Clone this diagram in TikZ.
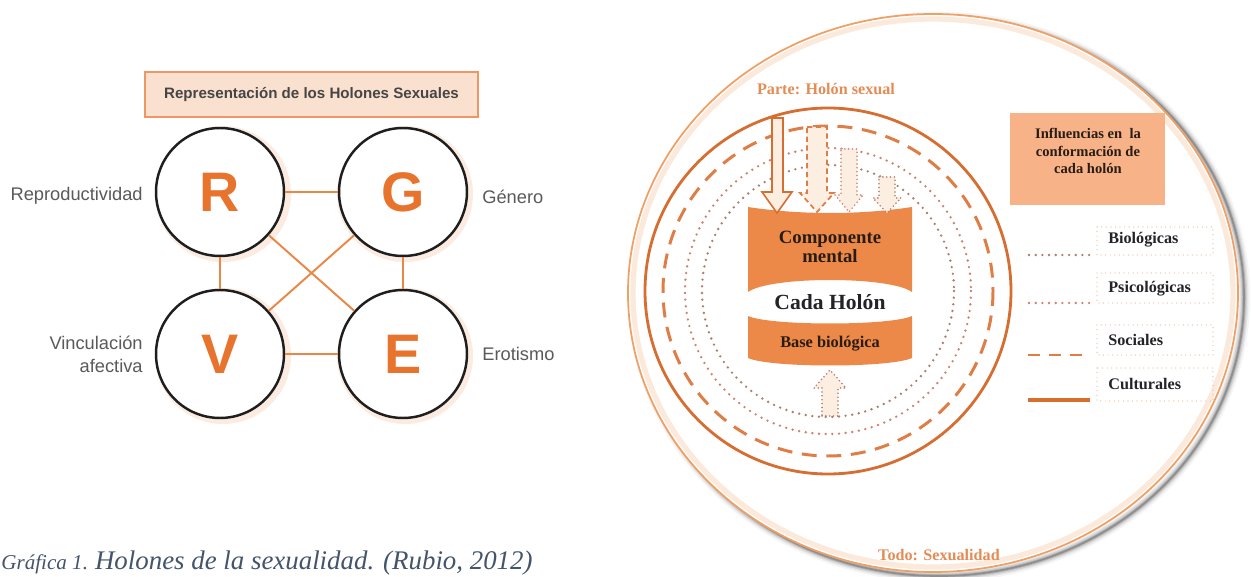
\documentclass[tikz,border=0pt]{standalone}
\usepackage{fontspec}
\setmainfont{Liberation Serif}
\newfontfamily\arialf{Liberation Sans}
\definecolor{orR}{RGB}{232,115,45}
\definecolor{lineOr}{RGB}{234,135,70}
\definecolor{circDark}{RGB}{30,30,30}
\definecolor{labGray}{RGB}{90,90,90}
\definecolor{titleTxt}{RGB}{70,70,70}
\definecolor{titleFill}{RGB}{250,224,206}
\definecolor{titleEdge}{RGB}{238,150,100}
\definecolor{capCol}{RGB}{68,84,106}
\definecolor{cylOr}{RGB}{237,137,72}
\definecolor{cultOr}{RGB}{214,110,50}
\definecolor{socOr}{RGB}{222,125,70}
\definecolor{psiCol}{RGB}{205,130,110}
\definecolor{bioCol}{RGB}{175,125,105}
\definecolor{legFill}{RGB}{247,178,136}
\definecolor{legEdge}{RGB}{228,185,155}
\definecolor{bigOr}{RGB}{240,160,100}
\definecolor{textOr}{RGB}{228,140,85}
\definecolor{arrFill}{RGB}{253,238,226}
\definecolor{darkTxt}{RGB}{40,28,20}
\definecolor{legTxt}{RGB}{35,35,40}
\tikzset{
  holon/.style={circle, draw=circDark, line width=1.4pt, fill=white, minimum size=2.56cm, inner sep=0pt,
    font=\arialf\bfseries\fontsize{31.7}{32}\selectfont, text=orR},
  conn/.style={draw=lineOr, line width=1.1pt},
  lab/.style={font=\arialf\fontsize{10.4}{13}\selectfont, text=labGray, inner sep=0pt},
  titlebox/.style={draw=titleEdge, line width=1.2pt, fill=titleFill, minimum width=6.66cm, minimum height=0.9cm,
    font=\arialf\bfseries\fontsize{8.6}{10}\selectfont, text=titleTxt},
  glow/.style={fill=lineOr, opacity=0.16},
  orlabel/.style={font=\bfseries\fontsize{9.2}{11}\selectfont, text=textOr, inner sep=0pt},
  cyltxt/.style={font=\bfseries\fontsize{10.7}{12}\selectfont, text=darkTxt, align=center, inner sep=0pt},
  legtxt/.style={font=\bfseries\fontsize{9.2}{11}\selectfont, text=legTxt, inner sep=0pt, anchor=west},
  legbox/.style={draw=legEdge, line width=0.7pt, line cap=round, dash pattern=on 0pt off 2.6pt},
  dotbio/.style={draw=bioCol, line width=1.5pt, line cap=round, dash pattern=on 0pt off 3.8pt},
  dotpsi/.style={draw=psiCol, line width=1.5pt, line cap=round, dash pattern=on 0pt off 3.8pt},
  dashsoc/.style={draw=socOr, line width=1.7pt, dash pattern=on 8.5pt off 5.5pt},
  solcult/.style={draw=cultOr, line width=1.6pt},
  arrSolid/.style={draw=cultOr, line width=0.9pt, fill=arrFill},
  arrDash/.style={draw=socOr, line width=1pt, fill=arrFill, dash pattern=on 3pt off 2pt},
  arrPsi/.style={draw=psiCol, line width=1pt, fill=arrFill, line cap=round, dash pattern=on 0pt off 2.2pt},
  arrBio/.style={draw=bioCol, line width=1pt, fill=arrFill, line cap=round, dash pattern=on 0pt off 2.2pt},
}
\begin{document}
\begin{tikzpicture}[x=0.02cm,y=-0.02cm]
\fill[white] (0,0) rectangle (1251,577);
\useasboundingbox (0,0) rectangle (1251,577);

% ---------------- left diagram ----------------
\node[titlebox] (title) at (311.5,94.5) {Representación de los Holones Sexuales};

\fill[glow] (223,194) circle (68);
\fill[glow] (405,194) circle (68);
\fill[glow] (223,356) circle (68);
\fill[glow] (405,356) circle (68);

\node[holon] (R) at (220,192) {R};
\node[holon] (G) at (403,192) {G};
\node[holon] (V) at (220,354) {V};
\node[holon] (E) at (403,354) {E};

\draw[conn] (R) -- (G);
\draw[conn] (V) -- (E);
\draw[conn] (R) -- (V);
\draw[conn] (G) -- (E);
\draw[conn] (R) -- (E);
\draw[conn] (G) -- (V);

\node[lab, anchor=east] (lR) at (143,196) {Reproductividad};
\node[lab, anchor=west] (lG) at (482,197) {Género};
\node[lab, anchor=east, align=right] (lV) at (143,354) {Vinculación\\afectiva};
\node[lab, anchor=west] (lE) at (482,354) {Erotismo};

\node[anchor=base west, inner sep=0pt, text=capCol] (caption) at (1,569)
  {{\fontsize{12}{14}\selectfont\itshape Gráfica 1. }{\fontsize{15.3}{18}\selectfont\itshape Holones de la sexualidad. (Rubio, 2012)}};

% ---------------- right diagram ----------------
\foreach \w/\o in {7/0.04,5/0.06,3.5/0.09,2/0.14,1/0.2}
  \draw[black, opacity=\o, line width=\w pt] (939,297) ellipse (305 and 279);
\filldraw[fill=white, draw=bigOr, line width=1pt] (933,293) ellipse (305 and 279);
\draw[bigOr, opacity=0.22, line width=3pt] (933,293) ellipse (300 and 274);

\draw[solcult] (828,291) circle (183);
\draw[dashsoc] (828,291) circle (165);
\draw[dotpsi] (828,291) circle (143);
\draw[dotbio] (828,291) circle (126);

% cylinder
\fill[cylOr] (748,207) .. controls (800,215) and (860,215) .. (912,207)
  -- (912,292) .. controls (890,276) and (770,276) .. (748,292) -- cycle;
\fill[cylOr] (748,316) .. controls (770,326) and (890,326) .. (912,316)
  -- (912,358) .. controls (890,368) and (770,368) .. (748,358) -- cycle;

\node[cyltxt] (comp) at (830,247) {Componente\\[-1pt]mental};
\node[cyltxt, font=\bfseries\fontsize{12.3}{14}\selectfont, text=legTxt] (cada) at (830,302) {Cada Holón};
\node[cyltxt, font=\bfseries\fontsize{9.3}{11}\selectfont] (base) at (830,344) {Base biológica};

% arrows
\filldraw[arrSolid] (772,118) -- (783,118) -- (783,192) -- (792,192) -- (777,213) -- (762,192) -- (772,192) -- cycle;
\filldraw[arrDash] (807,127) -- (827,127) -- (827,193) -- (834,193) -- (817,212) -- (800,193) -- (807,193) -- cycle;
\filldraw[arrPsi] (841,149) -- (857,149) -- (857,195) -- (863,195) -- (849,212) -- (835,195) -- (841,195) -- cycle;
\filldraw[arrBio] (879,177) -- (895,177) -- (895,198) -- (901,198) -- (887,213) -- (873,198) -- (879,198) -- cycle;
\filldraw[arrBio] (822,416) -- (838,416) -- (838,388) -- (846,388) -- (830,370) -- (814,388) -- (822,388) -- cycle;

\node[orlabel] (parte) at (826,89) {Parte: Holón sexual};
\node[orlabel] (todo) at (939,555) {Todo: Sexualidad};

% legend
\fill[legFill] (1010,113) rectangle (1165,205);
\node[font=\bfseries\fontsize{8.3}{10.2}\selectfont, text=darkTxt, align=center, inner sep=0pt] (infl) at (1088,151)
  {Influencias en~ la\\conformación de\\cada holón};

\draw[legbox] (1097,227) rectangle (1213,255);
\draw[legbox] (1097,273) rectangle (1213,303);
\draw[legbox] (1097,325) rectangle (1213,355);
\draw[legbox] (1097,368) rectangle (1213,401);
\node[legtxt] (lbio) at (1108,240) {Biológicas};
\node[legtxt] (lpsi) at (1108,289) {Psicológicas};
\node[legtxt] (lsoc) at (1108,340) {Sociales};
\node[legtxt] (lcul) at (1108,384) {Culturales};
\draw[dotbio] (1029,255) -- (1090,255);
\draw[dotpsi] (1029,303) -- (1090,303);
\draw[dashsoc, dash pattern=on 7pt off 5pt] (1028,355) -- (1090,355);
\draw[solcult, line width=2pt] (1028,400) -- (1090,400);
\end{tikzpicture}
\end{document}
